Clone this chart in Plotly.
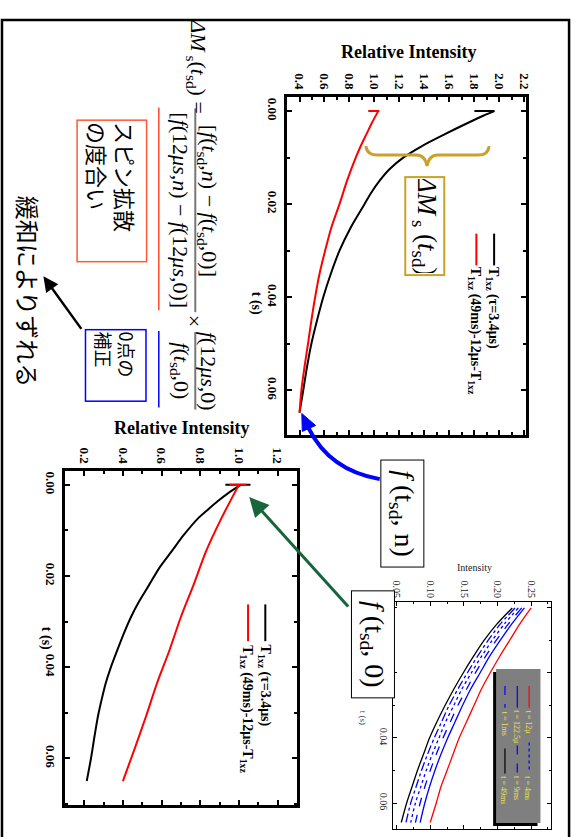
import plotly.graph_objects as go

W, H = 581, 837

# ---------------- data ----------------
# Chart 1 (top): Relative Intensity vs t (s)
c1_black_t = [0, 0.001, 0.0025, 0.005, 0.0075, 0.01, 0.0125, 0.015, 0.0175, 0.02, 0.025, 0.03, 0.035, 0.04, 0.045, 0.05, 0.055, 0.06, 0.0648]
c1_black_v = [1.96, 1.87, 1.75, 1.56, 1.38, 1.23, 1.12, 1.04, 0.975, 0.92, 0.81, 0.72, 0.65, 0.59, 0.54, 0.495, 0.46, 0.43, 0.40]
c1_black_start_v = [1.80, 1.96]
c1_red_t = [0, 0.0025, 0.005, 0.0075, 0.01, 0.015, 0.02, 0.025, 0.03, 0.035, 0.04, 0.045, 0.05, 0.055, 0.06, 0.0648]
c1_red_v = [1.03, 0.98, 0.935, 0.89, 0.85, 0.78, 0.72, 0.655, 0.605, 0.56, 0.525, 0.495, 0.468, 0.44, 0.415, 0.40]
c1_red_start_v = [0.95, 1.04]
c1_xticks = [0.4, 0.6, 0.8, 1.0, 1.2, 1.4, 1.6, 1.8, 2.0, 2.2]
c1_xticktext = ["0.4", "0.6", "0.8", "1.0", "1.2", "1.4", "1.6", "1.8", "2.0", "2.2"]

# Chart 2 (bottom left)
c2_black_t = [0, 0.0018, 0.0036, 0.0055, 0.0073, 0.011, 0.0146, 0.018, 0.022, 0.0255, 0.029, 0.0327, 0.0364, 0.04, 0.0437, 0.0475, 0.051, 0.0555, 0.06, 0.065]
c2_black_v = [1.01, 0.945, 0.89, 0.838, 0.79, 0.715, 0.652, 0.592, 0.535, 0.485, 0.442, 0.404, 0.37, 0.338, 0.31, 0.288, 0.27, 0.252, 0.235, 0.213]
c2_black_start_v = [0.93, 1.06]
c2_red_t = [0, 0.0073, 0.0146, 0.022, 0.029, 0.0364, 0.0437, 0.051, 0.058, 0.065]
c2_red_v = [1.00, 0.91, 0.83, 0.765, 0.70, 0.64, 0.575, 0.518, 0.46, 0.40]
c2_red_start_v = [0.95, 1.04]
c2_xticks = [0.2, 0.4, 0.6, 0.8, 1.0, 1.2]
c2_xticktext = ["0.2", "0.4", "0.6", "0.8", "1.0", "1.2"]

start_t = [0, 0]
t_ticks = [0.00, 0.02, 0.04, 0.06]
t_ticktext = ["0.00", "0.02", "0.04", "0.06"]

# Chart 3 (inset)
c3_t = [0, 0.005, 0.01, 0.015, 0.02, 0.025, 0.03, 0.035, 0.04, 0.045, 0.05, 0.055, 0.06, 0.066]
c3_12u = [0.250, 0.233, 0.218, 0.203, 0.189, 0.176, 0.165, 0.154, 0.143, 0.134, 0.125, 0.116, 0.109, 0.100]
c3_122u = [0.240, 0.221, 0.204, 0.188, 0.174, 0.160, 0.148, 0.137, 0.126, 0.116, 0.107, 0.099, 0.092, 0.085]
c3_1ms = [0.236, 0.216, 0.198, 0.182, 0.167, 0.154, 0.141, 0.130, 0.119, 0.109, 0.100, 0.092, 0.085, 0.078]
c3_4ms = [0.231, 0.210, 0.192, 0.176, 0.161, 0.147, 0.135, 0.123, 0.113, 0.103, 0.094, 0.086, 0.078, 0.071]
c3_9ms = [0.226, 0.204, 0.186, 0.170, 0.155, 0.141, 0.128, 0.117, 0.106, 0.096, 0.087, 0.079, 0.071, 0.064]
c3_49ms = [0.222, 0.199, 0.180, 0.164, 0.149, 0.135, 0.122, 0.110, 0.099, 0.090, 0.081, 0.073, 0.065, 0.057]
c3_xticks = [0.05, 0.10, 0.15, 0.20, 0.25]
c3_xticktext = ["0.05", "0.10", "0.15", "0.20", "0.25"]

# ---------------- helpers ----------------
def P(x):
    return x / W

def Q(y):
    return 1 - y / H

def ann(x, y, text, size, angle=90, family="Liberation Serif", color="black", weight="normal", **kw):
    d = dict(x=P(x), y=Q(y), xref="paper", yref="paper", text=text, showarrow=False,
             textangle=angle, font=dict(family=family, size=size, color=color, weight=weight),
             xanchor="center", yanchor="middle")
    d.update(kw)
    return d

def line(x0, y0, x1, y1, color="black", width=2, dash="solid"):
    return dict(type="line", xref="paper", yref="paper", x0=P(x0), y0=Q(y0), x1=P(x1), y1=Q(y1),
                line=dict(color=color, width=width, dash=dash))

def rect(x0, y0, x1, y1, fill=None, color="black", width=0):
    return dict(type="rect", xref="paper", yref="paper", x0=P(x0), y0=Q(y0), x1=P(x1), y1=Q(y1),
                fillcolor=fill if fill else "rgba(0,0,0,0)", line=dict(color=color, width=width))

def path(cmds, color="black", width=2, fill=None):
    s = ""
    for c in cmds:
        if isinstance(c, str):
            s += c + " "
        else:
            s += "%.5f,%.5f " % (P(c[0]), Q(c[1]))
    return dict(type="path", xref="paper", yref="paper", path=s.strip(),
                line=dict(color=color, width=width), fillcolor=fill if fill else "rgba(0,0,0,0)")

# ---------------- figure ----------------
fig = go.Figure()

def curve(xv, tv, col, ax, ay, width=2, dash="solid", spline=True):
    fig.add_trace(go.Scatter(x=xv, y=tv, mode="lines",
                             line=dict(color=col, width=width, dash=dash,
                                       shape="spline" if spline else "linear", smoothing=0.8),
                             xaxis=ax, yaxis=ay))

curve(c1_black_v, c1_black_t, "black", "x", "y")
curve(c1_black_start_v, start_t, "black", "x", "y", spline=False)
curve(c1_red_v, c1_red_t, "red", "x", "y")
curve(c1_red_start_v, start_t, "red", "x", "y", spline=False)
curve(c2_black_v, c2_black_t, "black", "x2", "y2")
curve(c2_black_start_v, start_t, "black", "x2", "y2", spline=False)
curve(c2_red_v, c2_red_t, "red", "x2", "y2")
curve(c2_red_start_v, start_t, "red", "x2", "y2", spline=False)

c3_series = [
    (c3_49ms, "black", "solid"),
    (c3_9ms, "blue", "dashdot"),
    (c3_4ms, "blue", "dot"),
    (c3_1ms, "blue", "dash"),
    (c3_122u, "blue", "solid"),
    (c3_12u, "red", "solid"),
]
for vals, col, dsh in c3_series:
    curve(vals, c3_t, col, "x3", "y3", width=1.3, dash=dsh)

bold_tick = dict(family="Liberation Serif", size=13, color="black", weight="bold")
common = dict(showline=True, linecolor="black", mirror="ticks", ticks="inside", showgrid=False,
              zeroline=False, tickcolor="black")

fig.update_layout(
    width=W, height=H, margin=dict(l=0, r=0, t=0, b=0), showlegend=False,
    paper_bgcolor="white", plot_bgcolor="white",
    xaxis=dict(domain=[P(290), P(532)], anchor="y", side="top", range=[0.3, 2.21],
               tickmode="array", tickvals=c1_xticks, ticktext=c1_xticktext, tickangle=90,
               tickfont=bold_tick, linewidth=3, ticklen=5, tickwidth=2,
               minor=dict(dtick=0.1, tick0=0.3, ticks="inside", ticklen=3, tickwidth=2, tickcolor="black"),
               **common),
    yaxis=dict(domain=[Q(433), Q(92.7)], anchor="x", range=[0.0697, -0.003],
               tickmode="array", tickvals=t_ticks, ticktext=t_ticktext, tickangle=90,
               tickfont=bold_tick, linewidth=3, ticklen=5, tickwidth=2,
               minor=dict(dtick=0.01, tick0=0, ticks="inside", ticklen=3, tickwidth=2, tickcolor="black"),
               **common),
    xaxis2=dict(domain=[P(64.8), P(300)], anchor="y2", side="top", range=[0.1, 1.3],
                tickmode="array", tickvals=c2_xticks, ticktext=c2_xticktext, tickangle=90,
                tickfont=bold_tick, linewidth=3, ticklen=5, tickwidth=2,
                minor=dict(dtick=0.1, tick0=0.1, ticks="inside", ticklen=3, tickwidth=2, tickcolor="black"),
                **common),
    yaxis2=dict(domain=[Q(805), Q(469)], anchor="x2", range=[0.0703, -0.003],
                tickmode="array", tickvals=t_ticks, ticktext=t_ticktext, tickangle=90,
                tickfont=bold_tick, linewidth=3, ticklen=5, tickwidth=2,
                minor=dict(dtick=0.01, tick0=0, ticks="inside", ticklen=3, tickwidth=2, tickcolor="black"),
                **common),
    xaxis3=dict(domain=[P(397), P(558)], anchor="y3", side="top", range=[0.044, 0.28],
                tickmode="array", tickvals=c3_xticks, ticktext=c3_xticktext, tickangle=90,
                tickfont=dict(family="Liberation Serif", size=10, color="#222"), linewidth=1, ticklen=4, tickwidth=1,
                minor=dict(dtick=0.025, tick0=0.05, ticks="inside", ticklen=2, tickwidth=1, tickcolor="black"),
                **common),
    yaxis3=dict(domain=[Q(829), Q(601)], anchor="x3", range=[0.068, -0.0017],
                tickmode="array", tickvals=t_ticks, ticktext=t_ticktext, tickangle=90,
                tickfont=dict(family="Liberation Serif", size=10, color="#222"), linewidth=1, ticklen=4, tickwidth=1,
                minor=dict(dtick=0.01, tick0=0, ticks="inside", ticklen=2, tickwidth=1, tickcolor="black"),
                **common),
)

shapes = []
annotations = []

# outer frame
shapes.append(rect(1, 15, 576, 860, color="black", width=2.5))

# ---- chart 1 extras ----
annotations.append(ann(413, 47, "Relative Intensity", 18, angle=0, weight="bold"))
annotations.append(ann(258, 300, "t (s)", 14, weight="bold"))
# legend chart1
shapes.append(line(500, 230, 500, 262, "black", 2))
shapes.append(line(482, 230, 482, 262, "red", 2))
annotations.append(ann(499, 305, "T<sub>1xz</sub> (τ=3.4μs)", 14, weight="bold"))
annotations.append(ann(481, 328, "T<sub>1xz</sub> (49ms)-12μs-T<sub>1xz</sub>", 14, weight="bold"))
# gold brace
gold = "#C9A227"
shapes.append(path(["M", (370, 142), "Q", (371, 151), (382, 151), "L", (421, 151), "Q", (430, 151), (432, 162),
                    "Q", (434, 151), (443, 151), "L", (484, 151), "Q", (494, 151), (495, 142)], color=gold, width=3))
annotations.append(ann(429.5, 222, "<i>ΔM</i><sub> s</sub> (<i>t</i><sub>sd</sub>)", 27,
                       bordercolor=gold, borderwidth=2, bgcolor="white", width=94, height=35))

# ---- chart 2 extras ----
annotations.append(ann(183, 426, "Relative Intensity", 18, angle=0, weight="bold"))
annotations.append(ann(45, 637, "t (s)", 14, weight="bold"))
shapes.append(line(268, 603, 268, 640, "black", 2))
shapes.append(line(250.5, 603, 250.5, 640, "red", 2))
annotations.append(ann(267, 685, "T<sub>1xz</sub> (τ=3.4μs)", 14, weight="bold"))
annotations.append(ann(249, 708, "T<sub>1xz</sub> (49ms)-12μs-T<sub>1xz</sub>", 14, weight="bold"))

# ---- chart 3 extras ----
annotations.append(ann(480, 566, "Intensity", 10, angle=0, color="#222"))
annotations.append(ann(367, 717, "t (s)", 9, color="#444"))
# legend box with shadow
shapes.append(rect(499, 671, 544, 826, fill="black"))
shapes.append(rect(502, 668, 547, 823, fill="#7f7f7f"))
yel = "#E6E64A"
leg3 = [
    (535.5, 685, 707, "red", "solid", "t = 12μ", 721),
    (535.5, 742, 772, "blue", "dot", "t = 4ms", 788),
    (523.5, 685, 707, "blue", "solid", "t = 122.5μ", 726),
    (523.5, 745, 772, "blue", "dash", "t = 9ms", 788),
    (511, 685, 707, "blue", "dash", "t = 1ms", 723),
    (511, 748, 773, "black", "solid", "t = 49ms", 790),
]
for xx, ya, yb, col, dsh, lab, ty in leg3:
    shapes.append(line(xx, ya, xx, yb, col, 1.2, dsh))
    annotations.append(ann(xx - 1, ty, lab, 8, color=yel))

# ---- f(t_sd, n) and f(t_sd, 0) boxes ----
annotations.append(ann(406.5, 511.5, "<i>f</i> (t<sub>sd</sub>, n)", 28, bordercolor="black", borderwidth=1,
                       bgcolor="white", width=104, height=40))
annotations.append(ann(377.5, 643.5, "<i>f</i> (t<sub>sd</sub>, 0)", 28, bordercolor="black", borderwidth=1,
                       bgcolor="white", width=104, height=40))

# blue curved arrow
shapes.append(path(["M", (384, 477), "C", (355, 472), (328, 458), (312, 426)], color="blue", width=4))
shapes.append(path(["M", (305, 411), "L", (319, 423), "L", (305.5, 429), "Z"], color="blue", width=1, fill="blue"))

# green arrow
annotations.append(dict(x=P(251.7), y=Q(495), xref="paper", yref="paper", text="", showarrow=True,
                        ax=352 - 251.7, ay=606 - 495, arrowcolor="#17653A", arrowwidth=3, arrowhead=2,
                        arrowsize=1.3))

# ---- formula ----
tf = "Liberation Serif"
annotations.append(ann(199, 62, "<i>ΔM</i><sub> s</sub>(<i>t</i><sub>sd</sub>) =", 22, family=tf))
annotations.append(ann(210, 197, "[<i>f</i>(<i>t</i><sub>sd</sub>,<i>n</i>) − <i>f</i>(<i>t</i><sub>sd</sub>,0)]", 22, family=tf))
annotations.append(ann(182, 207, "[<i>f</i>(12<i>μs</i>,<i>n</i>) − <i>f</i>(12<i>μs</i>,0)]", 22, family=tf))
annotations.append(ann(197, 318, "×", 22, family=tf))
annotations.append(ann(210, 368, "<i>f</i>(12<i>μs</i>,0)", 22, family=tf))
annotations.append(ann(182, 368, "<i>f</i>(<i>t</i><sub>sd</sub>,0)", 22, family=tf))
shapes.append(line(197, 104, 197, 309, "#777", 2))
shapes.append(line(197, 329, 197, 407, "#777", 2))

# coloured side lines
shapes.append(line(160, 103, 160, 307, "#FF4A2A", 1.5))
shapes.append(line(160, 328, 160, 405, "blue", 1.5))

# Japanese boxes
jp = "Noto Sans CJK JP"
annotations.append(ann(112, 187, "スピン拡散<br>の度合い", 22, family=jp, bordercolor="#FF5A36", borderwidth=1.5,
                       bgcolor="white", width=138, height=66, align="left"))
annotations.append(ann(116.5, 363, "0点の<br>補正", 18, family=jp, bordercolor="blue", borderwidth=1.5,
                       bgcolor="white", width=68, height=57, align="left"))
annotations.append(ann(28, 288, "緩和によりずれる", 24, family=jp))

# black arrow
annotations.append(dict(x=P(43), y=Q(273), xref="paper", yref="paper", text="", showarrow=True,
                        ax=82 - 43, ay=327 - 273, arrowcolor="black", arrowwidth=2.5, arrowhead=2,
                        arrowsize=1.2))

fig.update_layout(shapes=shapes, annotations=annotations)
fig.write_html("out.html")
